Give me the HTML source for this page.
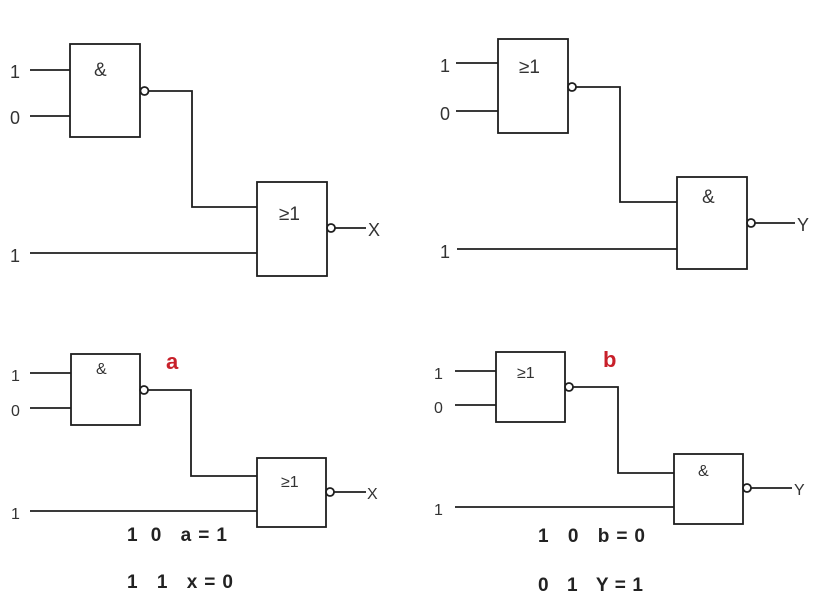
<!DOCTYPE html>
<html><head><style>
html,body{margin:0;padding:0;background:#fff;}
svg{display:block;}
.l{stroke:#1e1e1e;stroke-width:1.8;fill:none;}
.t{font-family:"Liberation Sans",sans-serif;fill:#333;font-size:18px;}
.b{font-family:"Liberation Sans",sans-serif;font-weight:bold;fill:#222;font-size:19px;}
.r{font-family:"Liberation Sans",sans-serif;font-weight:bold;fill:#c8202a;font-size:22px;}
</style></head><body>
<svg width="829" height="597" viewBox="0 0 829 597" xmlns="http://www.w3.org/2000/svg">
<!-- Top-left -->
<rect class="l" x="70" y="44" width="70" height="93"/>
<text class="t" x="94" y="76" style="font-size:19px">&amp;</text>
<line class="l" x1="30" y1="70" x2="70" y2="70"/>
<line class="l" x1="30" y1="116" x2="70" y2="116"/>
<text class="t" x="10" y="78">1</text>
<text class="t" x="10" y="124">0</text>
<circle class="l" cx="144.5" cy="91" r="4"/>
<polyline class="l" points="148.5,91 192,91 192,207 257,207"/>
<rect class="l" x="257" y="182" width="70" height="94"/>
<text class="t" x="279" y="220" style="font-size:19px">≥1</text>
<line class="l" x1="30" y1="253" x2="257" y2="253"/>
<text class="t" x="10" y="262">1</text>
<circle class="l" cx="331" cy="228" r="4"/>
<line class="l" x1="335" y1="228" x2="366" y2="228"/>
<text class="t" x="368" y="236">X</text>

<!-- Top-right -->
<rect class="l" x="498" y="39" width="70" height="94"/>
<text class="t" x="519" y="73" style="font-size:19px">≥1</text>
<line class="l" x1="456" y1="63" x2="498" y2="63"/>
<line class="l" x1="456" y1="111" x2="498" y2="111"/>
<text class="t" x="440" y="72">1</text>
<text class="t" x="440" y="120">0</text>
<circle class="l" cx="572" cy="87" r="4"/>
<polyline class="l" points="576,87 620,87 620,202 677,202"/>
<rect class="l" x="677" y="177" width="70" height="92"/>
<text class="t" x="702" y="203" style="font-size:19px">&amp;</text>
<line class="l" x1="457" y1="249" x2="677" y2="249"/>
<text class="t" x="440" y="258">1</text>
<circle class="l" cx="751" cy="223" r="4"/>
<line class="l" x1="755" y1="223" x2="795" y2="223"/>
<text class="t" x="797" y="231">Y</text>

<!-- Bottom-left -->
<rect class="l" x="71" y="354" width="69" height="71"/>
<text class="t" x="96" y="374" style="font-size:16px">&amp;</text>
<line class="l" x1="30" y1="373" x2="71" y2="373"/>
<line class="l" x1="30" y1="408" x2="71" y2="408"/>
<text class="t" x="11" y="381" style="font-size:16px">1</text>
<text class="t" x="11" y="416" style="font-size:16px">0</text>
<circle class="l" cx="144" cy="390" r="4"/>
<polyline class="l" points="148,390 191,390 191,476 257,476"/>
<rect class="l" x="257" y="458" width="69" height="69"/>
<text class="t" x="281" y="487" style="font-size:16px">≥1</text>
<line class="l" x1="30" y1="511" x2="257" y2="511"/>
<text class="t" x="11" y="519" style="font-size:16px">1</text>
<circle class="l" cx="330" cy="492" r="4"/>
<line class="l" x1="334" y1="492" x2="366" y2="492"/>
<text class="t" x="367" y="499" style="font-size:16px">X</text>
<text class="r" x="166" y="369">a</text>
<text class="b" x="127" y="541" textLength="100">1&#160;&#160;0&#160;&#160;&#160;a = 1</text>
<text class="b" x="127" y="588" textLength="106">1&#160;&#160;&#160;1&#160;&#160;&#160;x = 0</text>

<!-- Bottom-right -->
<rect class="l" x="496" y="352" width="69" height="70"/>
<text class="t" x="517" y="378" style="font-size:16px">≥1</text>
<line class="l" x1="455" y1="371" x2="496" y2="371"/>
<line class="l" x1="455" y1="405" x2="496" y2="405"/>
<text class="t" x="434" y="379" style="font-size:16px">1</text>
<text class="t" x="434" y="413" style="font-size:16px">0</text>
<circle class="l" cx="569" cy="387" r="4"/>
<polyline class="l" points="573,387 618,387 618,473 674,473"/>
<rect class="l" x="674" y="454" width="69" height="70"/>
<text class="t" x="698" y="476" style="font-size:16px">&amp;</text>
<line class="l" x1="455" y1="507" x2="674" y2="507"/>
<text class="t" x="434" y="515" style="font-size:16px">1</text>
<circle class="l" cx="747" cy="488" r="4"/>
<line class="l" x1="751" y1="488" x2="792" y2="488"/>
<text class="t" x="794" y="495" style="font-size:16px">Y</text>
<text class="r" x="603" y="367">b</text>
<text class="b" x="538" y="542" textLength="107">1&#160;&#160;&#160;0&#160;&#160;&#160;b = 0</text>
<text class="b" x="538" y="591" textLength="105">0&#160;&#160;&#160;1&#160;&#160;&#160;Y = 1</text>
</svg>
</body></html>
